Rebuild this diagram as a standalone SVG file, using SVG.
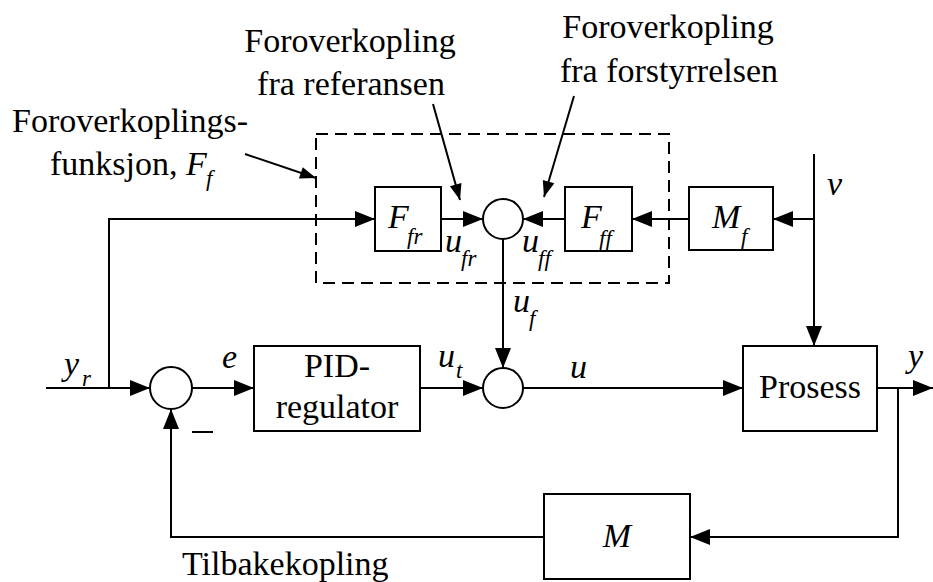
<svg xmlns="http://www.w3.org/2000/svg" width="933" height="582" viewBox="0 0 933 582" font-family="Liberation Serif, Times New Roman, serif">
<style>
.ln{fill:none;stroke:#000;stroke-width:2}
.bx{fill:#fff;stroke:#000;stroke-width:2}
.t{font-size:34px}
.i{font-style:italic;font-size:34px}
.s{font-style:italic;font-size:23px}
.c{text-anchor:middle}
</style>
<defs>
<marker id="ah" markerUnits="userSpaceOnUse" markerWidth="20" markerHeight="16" refX="20" refY="8" orient="auto" overflow="visible">
<path d="M0,0 L20,8 L0,16 Z" fill="#000"/>
</marker>
<marker id="sh" markerUnits="userSpaceOnUse" markerWidth="16" markerHeight="12" refX="16" refY="6" orient="auto" overflow="visible">
<path d="M0,0 L16,6 L0,12 Z" fill="#000"/>
</marker>
</defs>
<rect id="white" x="0" y="0" width="933" height="582" fill="#fff"/>
<g id="dashed-box">
<rect x="316" y="134" width="353" height="149" fill="none" stroke="#000" stroke-width="2" stroke-dasharray="12,7"/>
</g>
<g id="connectors">
<polyline class="ln" points="109,388 109,219 375,219" marker-end="url(#ah)"/>
<line class="ln" x1="441" y1="219" x2="483" y2="219" marker-end="url(#ah)"/>
<line class="ln" x1="814" y1="219" x2="773" y2="219" marker-end="url(#ah)"/>
<line class="ln" x1="689" y1="219" x2="632" y2="219" marker-end="url(#ah)"/>
<line class="ln" x1="565" y1="219" x2="523" y2="219" marker-end="url(#ah)"/>
<line class="ln" x1="814" y1="154" x2="814" y2="346" marker-end="url(#ah)"/>
<line class="ln" x1="46" y1="388" x2="150" y2="388" marker-end="url(#ah)"/>
<line class="ln" x1="192" y1="388" x2="254" y2="388" marker-end="url(#ah)"/>
<line class="ln" x1="420" y1="388" x2="483" y2="388" marker-end="url(#ah)"/>
<line class="ln" x1="503" y1="239" x2="503" y2="368" marker-end="url(#ah)"/>
<line class="ln" x1="523" y1="388" x2="743" y2="388" marker-end="url(#ah)"/>
<line class="ln" x1="877" y1="388" x2="933" y2="388" marker-end="url(#ah)"/>
<polyline class="ln" points="898,388 898,537 690,537" marker-end="url(#ah)"/>
<polyline class="ln" points="544,537 171,537 171,409" marker-end="url(#ah)"/>
<line class="ln" x1="245" y1="154" x2="316" y2="178" marker-end="url(#sh)"/>
<line class="ln" x1="433" y1="104" x2="460" y2="200" marker-end="url(#sh)"/>
<line class="ln" x1="574" y1="96" x2="544" y2="197" marker-end="url(#sh)"/>
</g>
<g id="Ffr">
<rect class="bx" x="375" y="187" width="66" height="64"/>
<text class="i" x="388" y="228">F</text><text class="s" x="407" y="244">fr</text>
</g>
<g id="sum-ff">
<circle class="bx" cx="503" cy="219" r="20"/>
</g>
<g id="Fff">
<rect class="bx" x="565" y="187" width="67" height="64"/>
<text class="i" x="581" y="228">F</text><text class="s" x="599" y="246">ff</text>
</g>
<g id="Mf">
<rect class="bx" x="689" y="187" width="84" height="63"/>
<text class="i" x="712" y="228">M</text><text class="s" x="741" y="244">f</text>
</g>
<g id="sum-e">
<circle class="bx" cx="171" cy="388" r="21"/>
</g>
<g id="PID">
<rect class="bx" x="254" y="346" width="166" height="85"/>
<text class="t c" x="337" y="377">PID-</text>
<text class="t c" x="337" y="418">regulator</text>
</g>
<g id="sum-u">
<circle class="bx" cx="503" cy="388" r="20"/>
</g>
<g id="Prosess">
<rect class="bx" x="743" y="346" width="134" height="85"/>
<text class="t c" x="810" y="398">Prosess</text>
</g>
<g id="M">
<rect class="bx" x="544" y="494" width="146" height="85"/>
<text class="i c" x="617" y="547">M</text>
</g>
<g id="labels">
<text class="t c" x="350" y="52">Foroverkopling</text>
<text class="t c" x="351" y="95">fra referansen</text>
<text class="t c" x="668" y="38">Foroverkopling</text>
<text class="t c" x="669" y="82">fra forstyrrelsen</text>
<text class="t" x="12" y="132">Foroverkoplings-</text>
<text class="t" x="50" y="175">funksjon, <tspan font-style="italic">F</tspan></text>
<text class="s" x="206" y="186">f</text>
<text class="i" x="827" y="195">v</text>
<text class="i" x="445" y="252">u</text><text class="s" x="461" y="266">fr</text>
<text class="i" x="522" y="252">u</text><text class="s" x="538" y="266">ff</text>
<text class="i" x="513" y="312">u</text><text class="s" x="529" y="326">f</text>
<text class="i" x="64" y="375">y</text><text class="s" x="82" y="386">r</text>
<text class="i" x="222" y="368">e</text>
<text class="i" x="438" y="367">u</text><text class="s" x="456" y="378">t</text>
<text class="i" x="570" y="378">u</text>
<text class="i" x="908" y="367">y</text>
<line class="ln" x1="192" y1="432" x2="213" y2="432"/>
<text class="t" x="182" y="575">Tilbakekopling</text>
</g>
</svg>
